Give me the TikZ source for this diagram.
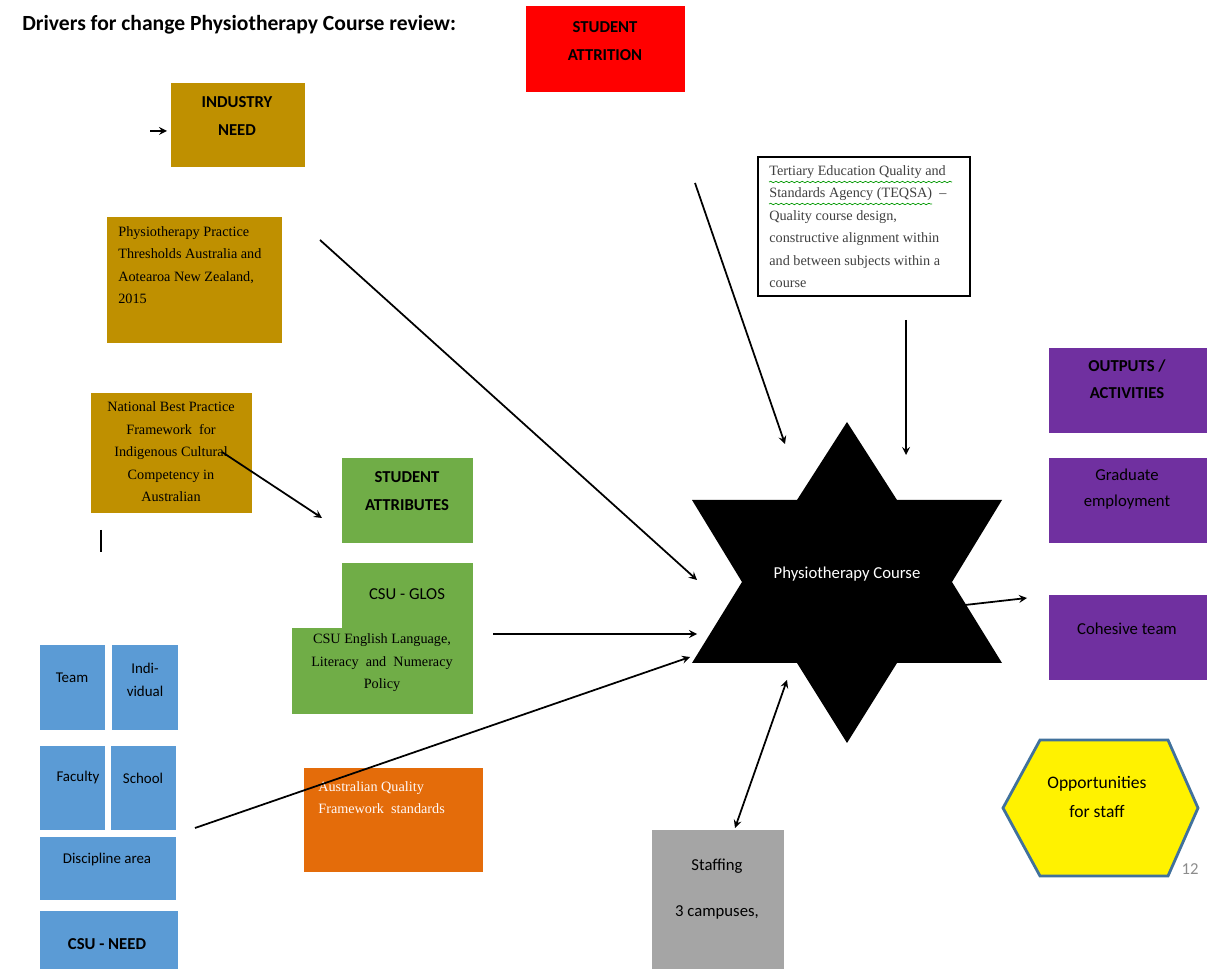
\documentclass[tikz,border=0pt]{standalone}
\usepackage{fontspec}
\setmainfont{Liberation Serif}
\setsansfont{Carlito}
\usetikzlibrary{fit,decorations.pathmorphing}
\definecolor{needgold}{HTML}{BF9000}
\definecolor{attrgreen}{HTML}{70AD47}
\definecolor{outpurple}{HTML}{7030A0}
\definecolor{csublue}{HTML}{5B9BD5}
\definecolor{aqforange}{HTML}{E46C0A}
\definecolor{staffgrey}{HTML}{A5A5A5}
\definecolor{hexborder}{HTML}{41719C}
\begin{document}
\begin{tikzpicture}
[x=0.02cm,y=-0.02cm,
  boxdecorate/.style={inner sep=0pt,draw=white,line width=0.4pt},%
  headdecorate/.style={font=\sffamily\bfseries\fontsize{9.5}{15.5}\selectfont,align=center,inner sep=0pt},%
  sansdecorate/.style={font=\sffamily\fontsize{9.5}{15}\selectfont,align=center,inner sep=0pt},%
  bodydecorate/.style={font=\fontsize{8.1}{12.8}\selectfont,inner sep=0pt},%
  arrowdecorate/.style={->,>=stealth,line width=1pt}]
\useasboundingbox (0,0) rectangle (1215,969);
%% title
\node (title) [anchor=west,font=\sffamily\bfseries\fontsize{12.3}{14}\selectfont,inner sep=0pt]
  at (22,25) {Drivers for change Physiotherapy Course review:};
%% boxes
\node (attrition) [boxdecorate,fill=red,fit={(525,5)(685,92)}] {};
\node (need) [boxdecorate,fill=needgold,fit={(170,82)(305,167)}] {};
\node (thresholds) [boxdecorate,fill=needgold,fit={(106,216)(282,343)}] {};
\node (indigenous) [boxdecorate,fill=needgold,fit={(90,392)(252,513)}] {};
\node (attributes) [boxdecorate,fill=attrgreen,fit={(341,457)(473,543)}] {};
\node (glos) [boxdecorate,fill=attrgreen,fit={(341,562)(473,640)}] {};
\node (literacy) [inner sep=0pt,fill=attrgreen,fit={(292,628)(473,714)}] {};
\node (teqsa) [inner sep=0pt,draw=black,line width=1pt,fill=white,fit={(758,157)(970,296)}] {};
\node (outputs) [boxdecorate,fill=outpurple,fit={(1048,347)(1207,433)}] {};
\node (graduate) [boxdecorate,fill=outpurple,fit={(1048,457)(1207,543)}] {};
\node (cohesive) [boxdecorate,fill=outpurple,fit={(1048,594)(1207,680)}] {};
\node (aqf) [boxdecorate,fill=aqforange,fit={(303,767)(483,872)}] {};
\node (staffing) [boxdecorate,fill=staffgrey,fit={(651,829)(784,975)}] {};
\foreach \nodename/\xa/\ya/\xb/\yb in {
  team/39/644/105/730, individual/111/644/178/730, faculty/39/745/105/830,
  school/110/745/176/830, discipline/39/836/176/900, csuneed/39/910/178/975} {
  \node (\nodename) [boxdecorate,fill=csublue,fit={(\xa,\ya)(\xb,\yb)}] {};
}
%% star and hexagon
\fill[shift={(847,582)}] (0,-160) -- (-50,-82) -- (-155,-82) -- (-105,0) -- (-155,81)
  -- (-50,81) -- (0,161) -- (50,81) -- (155,81) -- (105,0) -- (155,-82) -- (50,-82) -- cycle;
\filldraw[fill=yellow,draw=hexborder,line width=1.6pt] (1003,808) -- (1040,740) -- (1168,740)
  -- (1198,808) -- (1168,876) -- (1040,876) -- cycle;
%% texts
\node (attritiontext) [headdecorate] at (605,41) {STUDENT\\ATTRITION};
\node (needtext) [headdecorate] at (237,116) {INDUSTRY\\NEED};
\node (thresholdstext) [bodydecorate,align=left,anchor=north west] at (118,226)
  {Physiotherapy Practice\\Thresholds Australia and\\Aotearoa New Zealand,\\2015};
\node (indigenoustext) [bodydecorate,align=center] at (171,452)
  {National Best Practice\\Framework\ \ for\\Indigenous Cultural\\Competency in\\Australian};
\node (attributestext) [headdecorate] at (407,491) {STUDENT\\ATTRIBUTES};
\node (glostext) [sansdecorate] at (407,594) {CSU - GLOS};
\node (literacytext) [bodydecorate,align=center] at (382,663)
  {CSU English Language,\\Literacy\ \ and\ \ Numeracy\\Policy};
\node (teqsatext) [bodydecorate,align=left,anchor=north west,text=black!75] at (769,165)
  {Tertiary Education Quality and\\Standards Agency (TEQSA)\ \ --\\Quality course design,\\constructive alignment within\\and between subjects within a\\course};
\node (course) [sansdecorate,text=white] at (847,574) {Physiotherapy Course};
\node (outputstext) [headdecorate] at (1127,379) {OUTPUTS /\\ACTIVITIES};
\node (graduatetext) [sansdecorate] at (1127,489) {Graduate\\employment};
\node (cohesivetext) [sansdecorate] at (1127,629) {Cohesive team};
\node (aqftext) [bodydecorate,align=left,anchor=north west,text=white!90!pink] at (318,781)
  {Australian Quality\\Framework\ \ standards};
\node (staffingtext) [sansdecorate] at (717,889) {Staffing\\[11pt]3 campuses,};
\node (hextext) [sansdecorate,font=\sffamily\fontsize{10}{16}\selectfont] at (1097,797) {Opportunities\\for staff};
\node (pagenum) [sansdecorate,text=black!45] at (1190,869) {12};
\foreach \nodename/\x/\y/\label in {
  teamtext/72/678/Team, facultytext/78/778/Faculty, schooltext/143/778/School,
  disciplinetext/107/860/Discipline area} {
  \node (\nodename) [sansdecorate,font=\sffamily\fontsize{8.5}{14}\selectfont] at (\x,\y) {\label};
}
\node (individualtext) [sansdecorate,font=\sffamily\fontsize{8.5}{13.5}\selectfont] at (145,680) {Indi-\\vidual};
\node (csuneedtext) [headdecorate] at (107,944) {CSU - NEED};
%% spell check marks
\draw[green!60!black,decorate,decoration={snake,amplitude=0.4pt,segment length=3pt}] (769,182) -- (952,182);
\draw[green!60!black,decorate,decoration={snake,amplitude=0.4pt,segment length=3pt}] (769,204) -- (932,204);
\draw[line width=1.6pt] (101,530) -- (101,552);
%% arrows
\foreach \nodename/\x/\y in {
  a1/150/131, a2/167/131, b1/320/240, b2/697/580, c1/222/452, c2/322/518,
  d1/493/634, d2/697/634, e1/195/828, e2/690/657, f1/695/183, f2/785/444,
  g1/906/320, g2/906/455, h1/965/605, h2/1027/598, k1/735/828, k2/787/680} {
  \coordinate (\nodename) at (\x,\y);
}
\path
\foreach \startnode/\endnode in {a1/a2, b1/b2, c1/c2, d1/d2, e1/e2, f1/f2, g1/g2, h1/h2} {
  (\startnode) edge[arrowdecorate] (\endnode)
}
(k1) edge[arrowdecorate,<->] (k2);
\end{tikzpicture}
\end{document}
